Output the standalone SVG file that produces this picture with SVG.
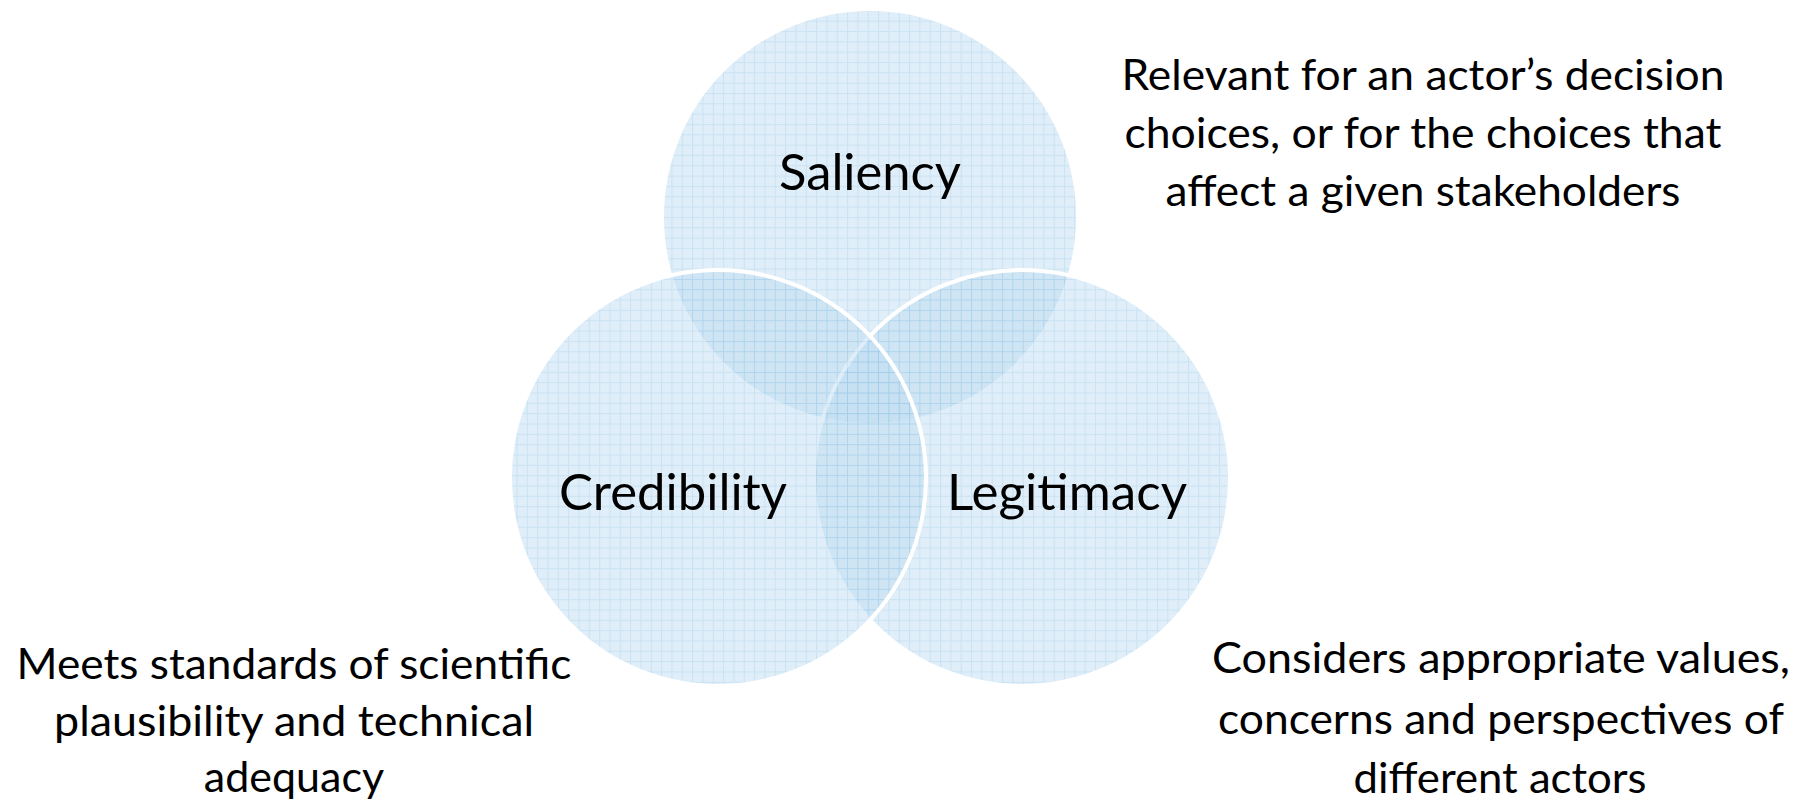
<svg xmlns="http://www.w3.org/2000/svg" width="1807" height="800" viewBox="0 0 1807 800">
  <defs>
    <pattern id="grid" patternUnits="userSpaceOnUse" x="0" y="0" width="10.33" height="10.33">
      <rect width="10.33" height="10.33" fill="rgb(191,221,241)"/>
      <rect x="0" y="0" width="10.33" height="1" fill="rgb(150,198,231)"/>
      <rect x="0" y="0" width="1" height="10.33" fill="rgb(150,198,231)"/>
    </pattern>
  </defs>
  <style>
    .venn { fill: url(#grid); fill-opacity: 0.5; stroke: #ffffff; stroke-width: 4; }
    .label { font-family: Lato, "Liberation Sans", sans-serif; font-size: 50px; fill: #000000; text-anchor: middle; }
    .desc { font-family: Lato, "Liberation Sans", sans-serif; font-size: 43px; fill: #000000; text-anchor: middle; }
  </style>
  <rect width="1807" height="800" fill="#ffffff"/>
  <g id="saliency">
    <circle class="venn" cx="870" cy="217" r="208"/>
    <text class="label" x="870" y="190" textLength="182" lengthAdjust="spacingAndGlyphs">Saliency</text>
  </g>
  <g id="legitimacy">
    <circle class="venn" cx="1022" cy="478" r="208"/>
    <text class="label" x="1067" y="510" textLength="240" lengthAdjust="spacingAndGlyphs">Legitimacy</text>
  </g>
  <g id="credibility">
    <circle class="venn" cx="718" cy="478" r="208"/>
    <text class="label" x="673" y="510" textLength="228" lengthAdjust="spacingAndGlyphs">Credibility</text>
  </g>
  <g id="saliency-desc">
    <text class="desc" x="1423" y="90" textLength="603" lengthAdjust="spacingAndGlyphs">Relevant for an actor’s decision</text>
    <text class="desc" x="1423" y="148" textLength="597" lengthAdjust="spacingAndGlyphs">choices, or for the choices that</text>
    <text class="desc" x="1423" y="206" textLength="515" lengthAdjust="spacingAndGlyphs">affect a given stakeholders</text>
  </g>
  <g id="credibility-desc">
    <text class="desc" x="294" y="679" textLength="555" lengthAdjust="spacingAndGlyphs">Meets standards of scientific</text>
    <text class="desc" x="294" y="736" textLength="480" lengthAdjust="spacingAndGlyphs">plausibility and technical</text>
    <text class="desc" x="294" y="792">adequacy</text>
  </g>
  <g id="legitimacy-desc">
    <text class="desc" x="1501" y="673" textLength="578" lengthAdjust="spacingAndGlyphs">Considers appropriate values,</text>
    <text class="desc" x="1501" y="734" textLength="566" lengthAdjust="spacingAndGlyphs">concerns and perspectives of</text>
    <text class="desc" x="1500" y="793" textLength="293" lengthAdjust="spacingAndGlyphs">different actors</text>
  </g>
</svg>
